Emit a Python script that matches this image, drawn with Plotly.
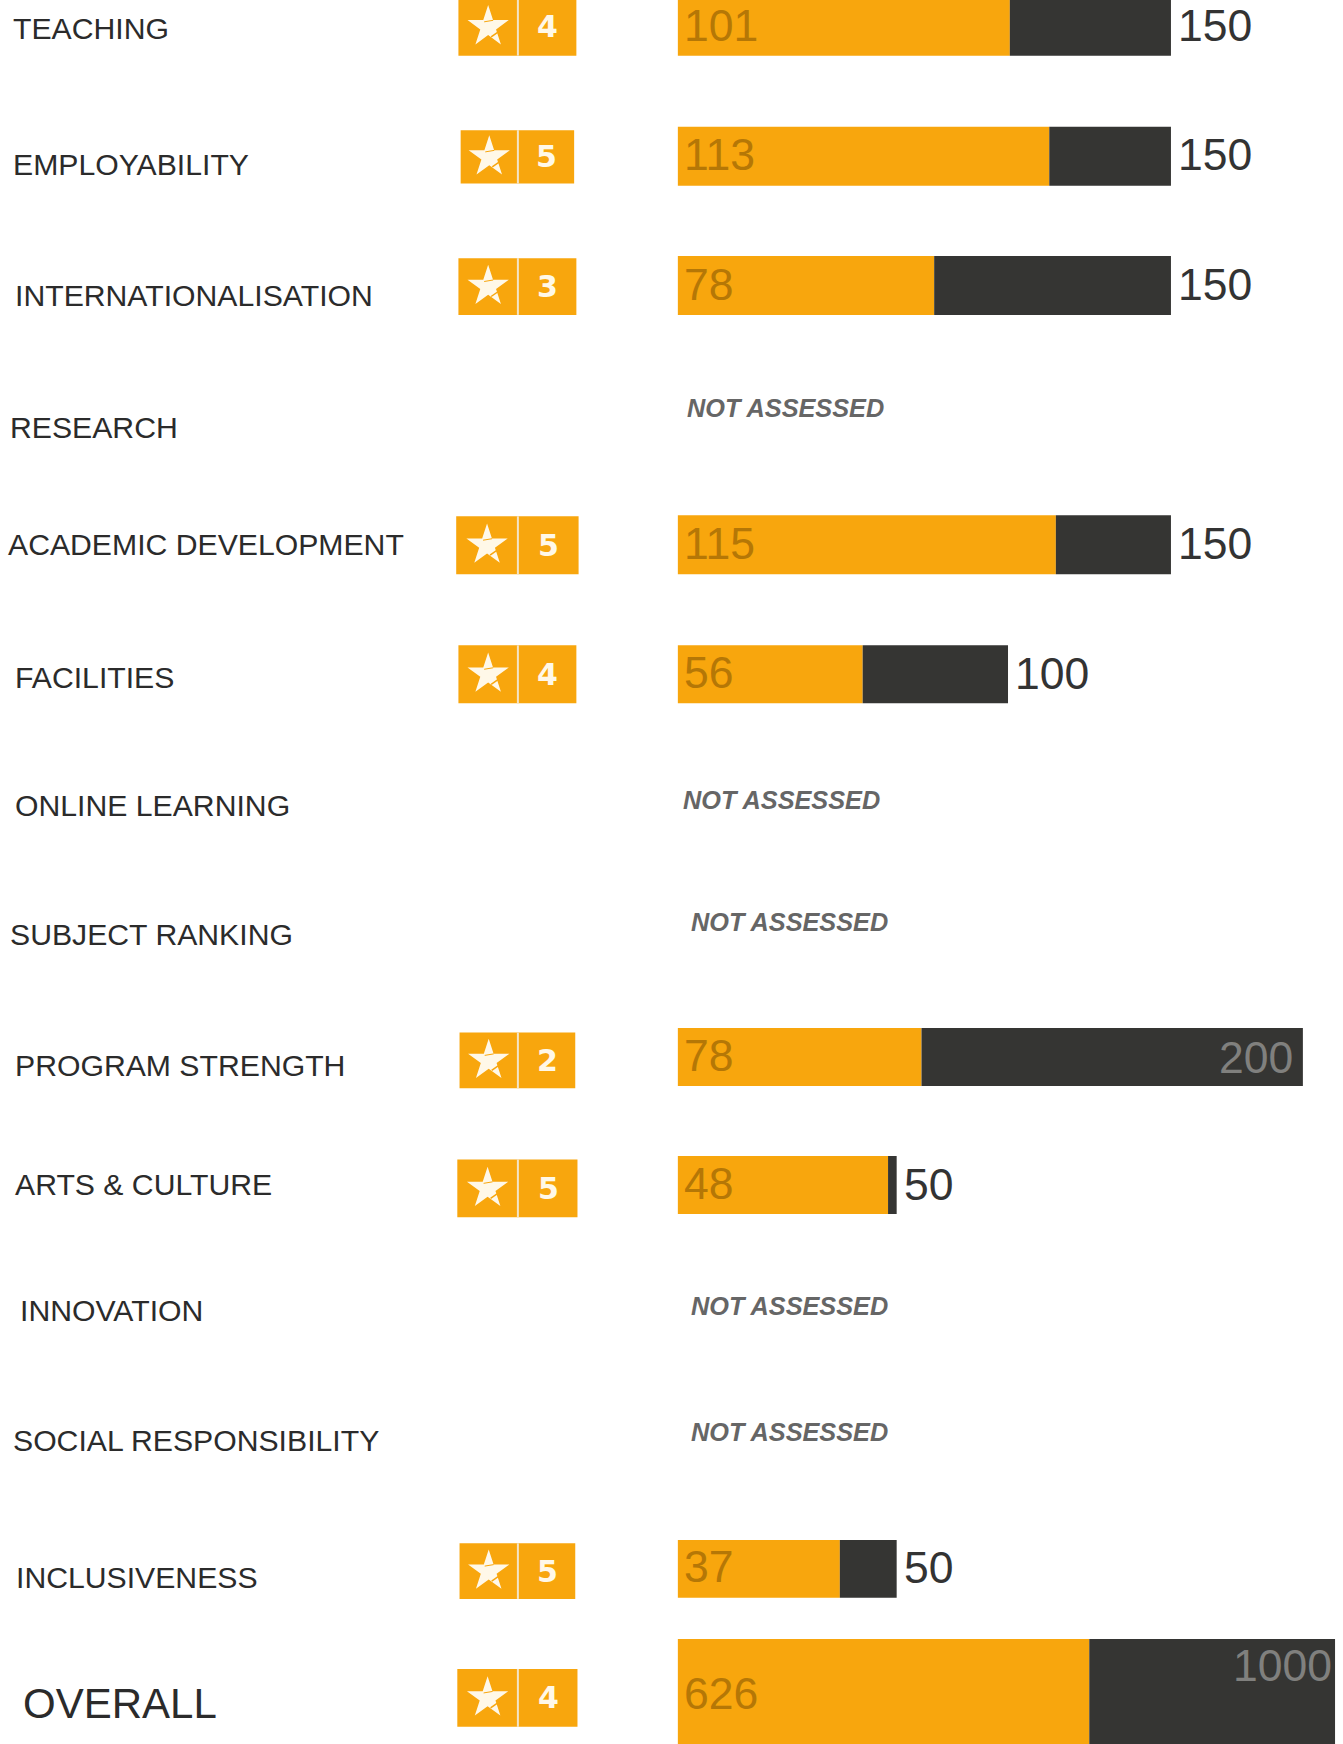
import plotly.graph_objects as go

# ---- data ----
categories = ["TEACHING", "EMPLOYABILITY", "INTERNATIONALISATION", "RESEARCH", "ACADEMIC DEVELOPMENT",
              "FACILITIES", "ONLINE LEARNING", "SUBJECT RANKING", "PROGRAM STRENGTH", "ARTS & CULTURE",
              "INNOVATION", "SOCIAL RESPONSIBILITY", "INCLUSIVENESS", "OVERALL"]
scores = [101, 113, 78, None, 115, 56, None, None, 78, 48, None, None, 37, 626]
maxima = [150, 150, 150, None, 150, 100, None, None, 200, 50, None, None, 50, 1000]
stars = [4, 5, 3, None, 5, 4, None, None, 2, 5, None, None, 5, 4]

# ---- layout (reference px at 1207 wide, scaled to full size) ----
W, H = 1343, 1744
S = W / 1207
label_x = [10, 10, 11.5, 7, 5, 11.5, 11.5, 7, 11.5, 11.5, 16, 10, 13, 19]
label_y = [25.5, 147.5, 266, 384, 489.5, 608.5, 723.5, 839.5, 957.5, 1064.5, 1177.5, 1294.5, 1417.5, 1531]
bar_top = [-2, 114, 230, None, 463, 580, None, None, 924, 1039, None, None, 1384, 1473]
bar_bot = [50, 167, 283, None, 516, 632, None, None, 976, 1091, None, None, 1436, 1580]
score_y = [23, 138.5, 255.5, None, 488.5, 604.5, None, None, 949, 1064, None, None, 1408, 1522]
max_y = [23, 138.5, 255.5, None, 488.5, 605.5, None, None, 950.5, 1064.5, None, None, 1409, 1497]
max_inset = {200: 8, 1000: 1}
na_x = [None, None, None, 616, None, None, 612, 619, None, None, 619, 619, None, None]
na_y = [None, None, None, 367, None, None, 719, 829, None, None, 1174, 1287, None, None]
badge_l = [412, 414, 412, None, 410, 412, None, None, 413, 411, None, None, 413, 411]
badge_r = [518, 516, 518, None, 520, 518, None, None, 517, 519, None, None, 517, 519]
badge_t = [-2, 117, 232, None, 464, 580, None, None, 928, 1042, None, None, 1387, 1500]
badge_b = [50, 165, 283, None, 516, 632, None, None, 978, 1094, None, None, 1437, 1552]
axis_end = {150: 1052.4, 100: 906, 50: 806, 200: 1171, 1000: 1200}
BAR_LEFT = 609

ORANGE, DARK = "#F8A60D", "#353533"
SCORE_C, GREY, INK = "#B57706", "#80807E", "#333333"
CREAM = "#FFF8E8"
FONT = "Liberation Sans, Arial, sans-serif"

axis_names = {m: ("x" if i == 0 else f"x{i + 1}") for i, m in enumerate(axis_end)}
px_axis = f"x{len(axis_end) + 1}"

fig = go.Figure()
ann, shapes = [], []

for i, cat in enumerate(categories):
    ann.append(dict(xref=px_axis, yref="y", x=label_x[i] * S, y=label_y[i] * S, text=cat.replace("&", "&amp;"),
                    xanchor="left", yanchor="middle", showarrow=False,
                    font=dict(family=FONT, size=42 if cat == "OVERALL" else 30.2, color="#2b2b2b")))
    if scores[i] is None:
        ann.append(dict(xref=px_axis, yref="y", x=na_x[i] * S, y=na_y[i] * S,
                        text="<b><i>NOT ASSESSED</i></b>", xanchor="left", yanchor="middle", showarrow=False,
                        font=dict(family=FONT, size=25.3, color="#666666")))
        continue
    m = maxima[i]
    ax = axis_names[m]
    yc = (bar_top[i] + bar_bot[i]) / 2 * S
    h = (bar_bot[i] - bar_top[i]) * S
    fig.add_bar(x=[scores[i]], y=[yc], width=[h], orientation="h", xaxis=ax, yaxis="y",
                marker=dict(color=ORANGE, line_width=0), hoverinfo="skip")
    fig.add_bar(x=[m - scores[i]], base=[scores[i]], y=[yc], width=[h], orientation="h", xaxis=ax, yaxis="y",
                marker=dict(color=DARK, line_width=0), hoverinfo="skip")
    ann.append(dict(xref=ax, yref="y", x=0, xshift=4, y=score_y[i] * S, text=str(scores[i]), xanchor="left",
                    yanchor="middle", showarrow=False, font=dict(family=FONT, size=44.5, color=SCORE_C)))
    inside = m in max_inset
    ann.append(dict(xref=ax, yref="y", x=m, xshift=-max_inset[m] if inside else 5, y=max_y[i] * S, text=str(m),
                    xanchor="right" if inside else "left", yanchor="middle", showarrow=False,
                    font=dict(family=FONT, size=44.5, color=GREY if inside else INK)))
    # rating badge
    l, r, t, b = badge_l[i] * S, badge_r[i] * S, badge_t[i] * S, badge_b[i] * S
    mid = (l + r) / 2 + 0.5
    cy = (max(t, -2.0) + b) / 2
    sx = (l + mid) / 2
    shapes.append(dict(type="rect", xref=px_axis, yref="y", x0=l, x1=r, y0=t, y1=b,
                       fillcolor=ORANGE, line_width=0, layer="below"))
    shapes.append(dict(type="line", xref=px_axis, yref="y", x0=mid, x1=mid, y0=t, y1=b,
                       line=dict(color="#F3E4C8", width=2), layer="above"))
    ann.append(dict(xref=px_axis, yref="y", x=(mid + r) / 2 + 0.5, y=cy, text=f"<b>{stars[i]}</b>",
                    xanchor="center", yanchor="middle", showarrow=False,
                    font=dict(family="DejaVu Sans, sans-serif", size=30, color=CREAM)))
    fig.add_scatter(x=[sx], y=[cy], xaxis=px_axis, yaxis="y", mode="markers",
                    marker=dict(symbol="star", size=31, color=CREAM, line_width=0), hoverinfo="skip")
    # the two slim cuts in the logo's star
    for (x0, y0, x1, y1, lw) in [(-4, -5, 5, -6.5, 1), (13, 3, 3, 10, 1.5)]:
        shapes.append(dict(type="line", xref=px_axis, yref="y", x0=sx + x0, x1=sx + x1, y0=cy + y0, y1=cy + y1,
                           line=dict(color=ORANGE, width=lw), layer="above"))

layout = dict(
    width=W, height=H, margin=dict(l=0, r=0, t=0, b=0), showlegend=False, barmode="overlay",
    paper_bgcolor="white", plot_bgcolor="rgba(0,0,0,0)", annotations=ann, shapes=shapes,
    yaxis=dict(range=[H, 0], domain=[0, 1], visible=False, fixedrange=True),
)
for m, name in axis_names.items():
    key = "xaxis" if name == "x" else "xaxis" + name[1:]
    layout[key] = dict(domain=[BAR_LEFT * S / W, axis_end[m] * S / W], range=[0, m], visible=False,
                       anchor="y", fixedrange=True)
layout["xaxis" + px_axis[1:]] = dict(domain=[0, 1], range=[0, W], visible=False, anchor="y", fixedrange=True)
fig.update_layout(**layout)

fig.write_html("out.html", config=dict(displayModeBar=False),
               post_script="document.body.style.margin='0';document.body.style.overflow='hidden';")
